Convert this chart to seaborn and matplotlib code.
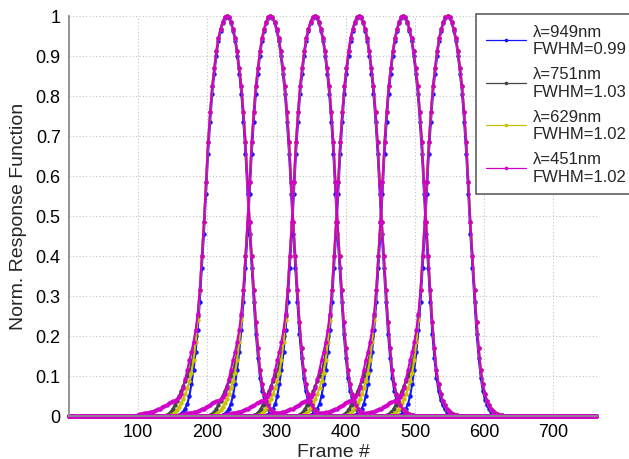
import numpy as np
import pandas as pd
import matplotlib
matplotlib.use("Agg")
import matplotlib.pyplot as plt
from matplotlib.lines import Line2D
import seaborn as sns

# ---------------- data ----------------
SERIES = ["λ=949nm\nFWHM=0.99", "λ=751nm\nFWHM=1.03",
          "λ=629nm\nFWHM=1.02", "λ=451nm\nFWHM=1.02"]
COLORS = ["#1414ff", "#454545", "#c8c400", "#d000c8"]
PEAK_FRAMES = [228, 291, 355, 419, 483, 547]
FRAME_MAX = 763
STEP = 3  # frames between samples

# peak core, offsets 0,3,...,39 frames from the peak
CORE = [1.0, 0.996, 0.985, 0.967, 0.945, 0.912, 0.87, 0.825, 0.76, 0.685,
        0.585, 0.485, 0.40, 0.315]
BLUE_CORE = [1.0, 0.995, 0.982, 0.962, 0.937, 0.90, 0.855, 0.805, 0.735,
             0.655, 0.555, 0.455, 0.37, 0.285]
# right (falling) tails, offsets 42,45,...,78
RIGHT_TAIL = [0.235, 0.17, 0.115, 0.08, 0.055, 0.038, 0.026, 0.017, 0.011,
              0.007, 0.004, 0.002, 0.001]
BLUE_RIGHT_TAIL = [0.205, 0.145, 0.095, 0.062, 0.04, 0.026, 0.016, 0.01,
                   0.006, 0.003, 0.002, 0.001, 0.0]
# left (rising) tails, offsets -42,-45,-48,...
LEFT_TAIL_949 = [0.215, 0.16, 0.115, 0.08, 0.05, 0.03, 0.018, 0.01, 0.005,
                 0.002]
LEFT_TAIL_751 = [0.25, 0.20, 0.16, 0.13, 0.112, 0.10, 0.088, 0.075, 0.062,
                 0.05, 0.038, 0.027, 0.018, 0.01, 0.005, 0.002]
LEFT_TAIL_629 = [0.24, 0.185, 0.14, 0.108, 0.087, 0.069, 0.054, 0.042, 0.031,
                 0.022, 0.014, 0.008, 0.004, 0.001]
LEFT_TAIL_451 = [0.255, 0.215, 0.185, 0.16, 0.14, 0.115, 0.092, 0.07, 0.055,
                 0.046, 0.041, 0.038, 0.036, 0.034, 0.031, 0.027, 0.024,
                 0.021, 0.018, 0.016, 0.014, 0.012, 0.010, 0.009, 0.008,
                 0.007, 0.006, 0.005, 0.004, 0.003]
BASELINE = 0.0

XTICKS = [100, 200, 300, 400, 500, 600, 700]
YTICKS = [0, 0.1, 0.2, 0.3, 0.4, 0.5, 0.6, 0.7, 0.8, 0.9, 1.0]
YTICK_LABELS = ["0", "0.1", "0.2", "0.3", "0.4", "0.5", "0.6", "0.7", "0.8",
                "0.9", "1"]

CORES = [BLUE_CORE, CORE, CORE, CORE]
RIGHTS = [BLUE_RIGHT_TAIL, RIGHT_TAIL, RIGHT_TAIL, RIGHT_TAIL]
LEFTS = [LEFT_TAIL_949, LEFT_TAIL_751, LEFT_TAIL_629, LEFT_TAIL_451]

# ---------------- build long table ----------------
rows = []
grid = np.arange(0, FRAME_MAX + 1, STEP)
for name, core, rt, lt in zip(SERIES, CORES, RIGHTS, LEFTS):
    left_vals = list(lt[::-1]) + list(core[:0:-1])
    right_vals = list(core) + list(rt)
    vals = np.array(left_vals + right_vals)
    offs = STEP * (np.arange(len(vals)) - len(left_vals))
    for k, c in enumerate(PEAK_FRAMES):
        xs = c + offs
        base = grid[(grid < xs.min()) | (grid > xs.max())]
        fr = np.concatenate([base, xs])
        vv = np.concatenate([np.full(len(base), BASELINE), vals])
        for f, v in zip(fr, vv):
            rows.append((name, k, f, v))
df = pd.DataFrame(rows, columns=["series", "peak", "frame", "value"])

# ---------------- plot ----------------
sns.set_style("white")
plt.rcParams["font.family"] = ["Liberation Sans", "DejaVu Sans"]

fig = plt.figure(figsize=(6.29, 4.60), dpi=100)
ax = fig.add_axes([69 / 629, 1 - 416.7 / 460, 528 / 629, 400 / 460])

sns.lineplot(data=df, x="frame", y="value", hue="series", hue_order=SERIES,
             palette=COLORS, units="peak", estimator=None, sort=True,
             marker="o", markersize=3.2, markeredgewidth=0, linewidth=1.5,
             clip_on=False, legend=False, ax=ax)

ax.set_xlim(0, 763)
ax.set_ylim(0, 1)
ax.set_xticks(XTICKS)
ax.set_xticklabels([str(t) for t in XTICKS])
ax.set_yticks(YTICKS)
ax.set_yticklabels(YTICK_LABELS)
ax.grid(True, linestyle=(0, (1, 2)), color="#c4c4c4", linewidth=0.8)
ax.set_axisbelow(True)
for side in ["top", "right"]:
    ax.spines[side].set_visible(False)
for side in ["left", "bottom"]:
    ax.spines[side].set_color("#8c8c8c")
    ax.spines[side].set_linewidth(1.3)
ax.tick_params(axis="both", direction="in", length=4, color="#8c8c8c",
               labelsize=13, labelcolor="black")
ax.tick_params(axis="x", pad=5.5)
ax.tick_params(axis="y", pad=6)
ax.set_xlabel("Frame #", fontsize=14, labelpad=2)
ax.set_ylabel("Norm. Response Function", fontsize=14, labelpad=6)

handles = [Line2D([], [], color=c, marker="o", markersize=2.6,
                  markeredgewidth=0, linewidth=0.9) for c in COLORS]
leg = ax.legend(handles, SERIES, loc="upper left",
                bbox_to_anchor=(476 / 629, 1 - 15 / 460),
                bbox_transform=fig.transFigure, fontsize=12,
                frameon=True, fancybox=False, framealpha=1,
                edgecolor="#606060", handlelength=2.4, handletextpad=0.4,
                borderpad=0.6, labelspacing=0.6, borderaxespad=0)
leg.get_frame().set_linewidth(1.2)
for t in leg.get_texts():
    t.set_linespacing(1.2)

fig.savefig("out.png", dpi=100)
